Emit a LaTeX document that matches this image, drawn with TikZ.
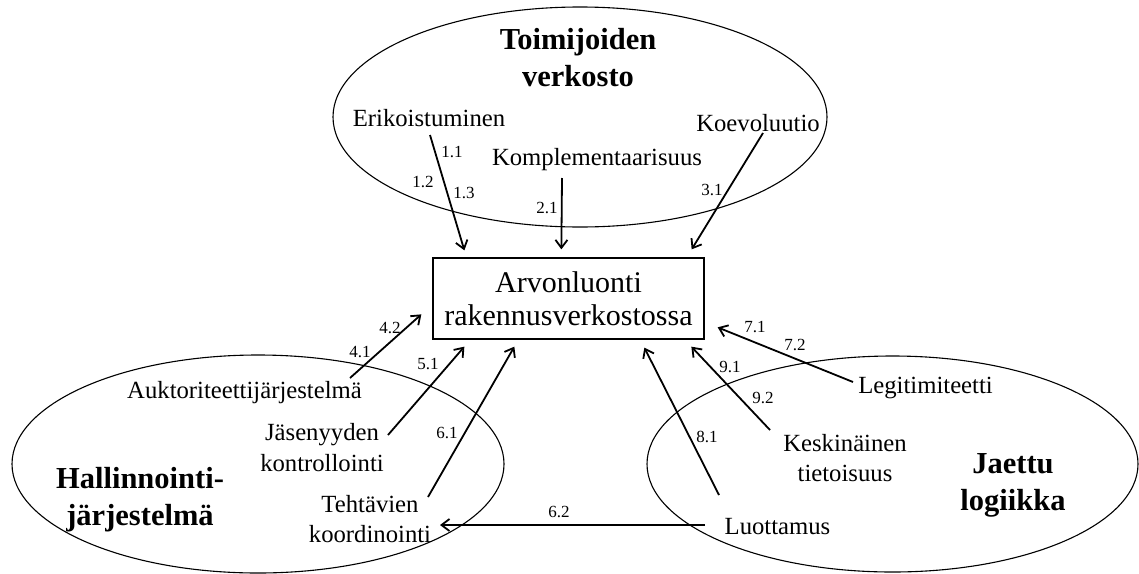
\documentclass[tikz,border=0pt]{standalone}
\usepackage{fontspec}
\setmainfont{Liberation Serif}
\usetikzlibrary{arrows.meta,calc}
\begin{document}
\begin{tikzpicture}[x=1pt,y=-1pt,
  txt/.style={font=\fontsize{24.7}{30.5}\selectfont, align=center, inner sep=0pt},
  ttl/.style={font=\fontsize{30.5}{37}\selectfont\bfseries, align=center, inner sep=0pt},
  num/.style={font=\fontsize{17}{20}\selectfont, inner sep=0pt},
  arr/.style={line width=1.8pt, -{Straight Barb[length=8pt,width=12pt]}},
  grp/.style={line width=1.1pt},
  mainbox/.style={draw, line width=1.3pt, minimum width=271pt, minimum height=81pt,
    align=center, font=\fontsize{30}{33}\selectfont, inner sep=0pt}]
\useasboundingbox (0,0) rectangle (1139,573);

% the three groups
\draw[grp] (580,117) ellipse [x radius=247pt, y radius=110pt];
\draw[grp] (258,464) ellipse [x radius=246pt, y radius=109pt];
\draw[grp] (892.5,464) ellipse [x radius=245.5pt, y radius=108pt];

% central box
\node[mainbox] (box) at (568.5,298.5) {Arvonluonti\\rakennusverkostossa};

% group titles
\node[ttl] (tnet) at (578,58) {Toimijoiden\\verkosto};
\node[ttl] (tgov) at (140,500) {Hallinnointi-\\järjestelmä};
\node[ttl] (tlog) at (1013,485) {Jaettu\\logiikka};

% factors
\node[txt] (eri) at (429,118) {Erikoistuminen};
\node[txt] (kom) at (597,160) {Komplementaarisuus};
\node[txt] (koe) at (758,123) {Koevoluutio};
\node[txt] (auk) at (244.5,393) {Auktoriteettijärjestelmä};
\node[txt] (jas) at (322,447.5) {Jäsenyyden\\kontrollointi};
\node[txt] (teh) at (370,519) {Tehtävien\\koordinointi};
\node[txt] (leg) at (925.5,388) {Legitimiteetti};
\node[txt] (kes) at (845,458) {Keskinäinen\\tietoisuus};
\node[txt] (luo) at (777.5,527) {Luottamus};

% connectors
\draw[arr] ($(eri)+(1,17)$) -- ($(box.north west)+(32,-7)$);
\draw[arr] ($(kom)+(-35,18)$) -- ($(box.north west)+(129,-8)$);
\draw[arr] ($(koe)+(5,10)$) -- ($(box.north east)+(-13,-8)$);
\draw[arr] ($(auk)+(105.5,-15)$) -- ($(box.north west)+(-11,57)$);
\draw[arr] ($(jas)+(66,-12.5)$) -- ($(box.south west)+(32,7)$);
\draw[arr] ($(teh)+(58,-22)$) -- ($(box.south west)+(82,7)$);
\draw[arr] ($(luo)+(-58.5,-32)$) -- ($(box.south west)+(212,8)$);
\draw[arr] ($(kes)+(-75,-28)$) -- ($(box.south west)+(259,7)$);
\draw[arr] ($(leg)+(-72.5,-6)$) -- ($(box.north east)+(13,70)$);
\draw[arr] ($(luo)+(-72.5,-2)$) -- ($(teh)+(70,6)$);

% connector numbers
\node[num] (n11) at (452,152) {1.1};
\node[num] (n12) at (423,182) {1.2};
\node[num] (n13) at (464,193) {1.3};
\node[num] (n21) at (547,208) {2.1};
\node[num] (n31) at (712,190) {3.1};
\node[num] (n42) at (390,328) {4.2};
\node[num] (n41) at (360,352) {4.1};
\node[num] (n51) at (428,364) {5.1};
\node[num] (n61) at (447,433) {6.1};
\node[num] (n62) at (559,512) {6.2};
\node[num] (n71) at (755,327) {7.1};
\node[num] (n72) at (795,345) {7.2};
\node[num] (n81) at (707,437) {8.1};
\node[num] (n91) at (730,367) {9.1};
\node[num] (n92) at (763,398) {9.2};
\end{tikzpicture}
\end{document}
